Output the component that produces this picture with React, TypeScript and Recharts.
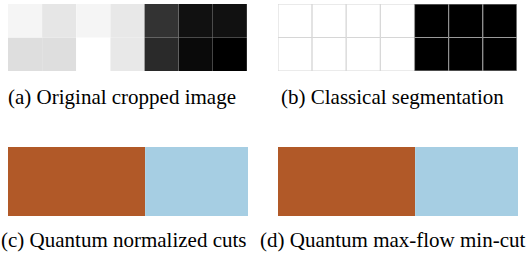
import { Bar, BarChart, Cell, ReferenceArea, XAxis, YAxis } from "recharts";

// 2 x 7 pixel crop, grey levels 0-255
const COLUMNS = ["p1", "p2", "p3", "p4", "p5", "p6", "p7"];
const ORIGINAL_TOP = [245, 230, 245, 232, 51, 17, 17];
const ORIGINAL_BOTTOM = [222, 222, 255, 232, 42, 10, 0];

// segment label per pixel (0 = background, 1 = object)
const CLASSICAL_TOP = [0, 0, 0, 0, 1, 1, 1];
const CLASSICAL_BOTTOM = [0, 0, 0, 0, 1, 1, 1];
const NCUT_LABELS = [0, 0, 0, 0, 1, 1, 1];
const MAXFLOW_LABELS = [0, 0, 0, 0, 1, 1, 1];

const CAPTIONS = [
  "(a) Original cropped image",
  "(b) Classical segmentation",
  "(c) Quantum normalized cuts",
  "(d) Quantum max-flow min-cut",
];

const SEG_COLORS = ["#b15928", "#a6cee3"];
const FONT = "Liberation Serif, DejaVu Serif, serif";

const grey = (v: number) => `rgb(${v},${v},${v})`;

type CellColor = { fill: string; stroke?: string };

function PixelGrid({
  top,
  bottom,
  border,
}: {
  top: CellColor[];
  bottom: CellColor[];
  border?: string;
}) {
  const data = COLUMNS.map((c) => ({ col: c, bottom: 1, top: 1 }));
  return (
    <BarChart
      width={239}
      height={67}
      data={data}
      margin={{ top: 0, right: 0, bottom: 0, left: 0 }}
      barCategoryGap={0}
      barGap={0}
    >
      <XAxis dataKey="col" hide />
      <YAxis type="number" domain={[0, 2]} hide />
      <Bar dataKey="bottom" stackId="px" isAnimationActive={false}>
        {bottom.map((c, i) => (
          <Cell key={i} fill={c.fill} stroke={c.stroke ?? "none"} strokeWidth={1} />
        ))}
      </Bar>
      <Bar dataKey="top" stackId="px" isAnimationActive={false}>
        {top.map((c, i) => (
          <Cell key={i} fill={c.fill} stroke={c.stroke ?? "none"} strokeWidth={1} />
        ))}
      </Bar>
      {border ? (
        <ReferenceArea
          x1={COLUMNS[0]}
          x2={COLUMNS[COLUMNS.length - 1]}
          y1={0}
          y2={2}
          fill="none"
          stroke={border}
          strokeWidth={1}
        />
      ) : null}
    </BarChart>
  );
}

function SegmentStrip({ labels }: { labels: number[] }) {
  const data = [
    {
      name: "crop",
      region0: labels.filter((l) => l === 0).length,
      region1: labels.filter((l) => l === 1).length,
    },
  ];
  return (
    <BarChart
      width={240}
      height={69}
      data={data}
      layout="vertical"
      margin={{ top: 0, right: 0, bottom: 0, left: 0 }}
      barCategoryGap={0}
    >
      <XAxis type="number" domain={[0, labels.length]} hide />
      <YAxis type="category" dataKey="name" hide />
      <Bar dataKey="region0" stackId="seg" fill={SEG_COLORS[0]} isAnimationActive={false} />
      <Bar dataKey="region1" stackId="seg" fill={SEG_COLORS[1]} isAnimationActive={false} />
    </BarChart>
  );
}

const captionStyle = (left: number, top: number): React.CSSProperties => ({
  position: "absolute",
  left,
  top,
  fontFamily: FONT,
  fontSize: 21,
  lineHeight: "22px",
  whiteSpace: "nowrap",
  color: "#000",
});

export default function App() {
  const origTop = ORIGINAL_TOP.map((v) => ({ fill: grey(v) }));
  const origBottom = ORIGINAL_BOTTOM.map((v) => ({ fill: grey(v) }));
  const classCell = (l: number): CellColor =>
    l === 0 ? { fill: "#ffffff", stroke: "#d6d6d6" } : { fill: "#000000", stroke: "#9a9a9a" };

  return (
    <div
      style={{
        position: "absolute",
        left: 0,
        top: 0,
        width: 528,
        height: 257,
        background: "#fff",
        overflow: "hidden",
      }}
    >
      <div style={{ position: "absolute", left: 8, top: 4 }}>
        <PixelGrid top={origTop} bottom={origBottom} />
      </div>
      <div style={{ position: "absolute", left: 278, top: 4 }}>
        <PixelGrid
          top={CLASSICAL_TOP.map(classCell)}
          bottom={CLASSICAL_BOTTOM.map(classCell)}
          border="#8c8c8c"
        />
      </div>
      <div style={{ position: "absolute", left: 8, top: 147 }}>
        <SegmentStrip labels={NCUT_LABELS} />
      </div>
      <div style={{ position: "absolute", left: 278, top: 147 }}>
        <SegmentStrip labels={MAXFLOW_LABELS} />
      </div>
      <div style={captionStyle(8, 86)}>{CAPTIONS[0]}</div>
      <div style={captionStyle(281, 86)}>{CAPTIONS[1]}</div>
      <div style={captionStyle(1, 229)}>{CAPTIONS[2]}</div>
      <div style={captionStyle(260, 229)}>{CAPTIONS[3]}</div>
    </div>
  );
}
